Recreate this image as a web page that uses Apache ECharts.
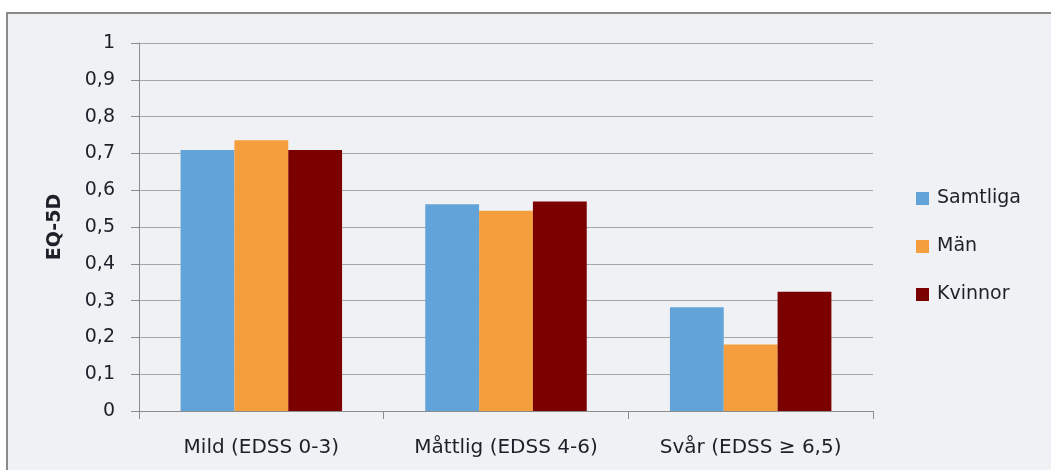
<!DOCTYPE html>
<html>
<head>
<meta charset="utf-8">
<style>
  html, body { margin: 0; padding: 0; background: #ffffff; }
  #chart { width: 1051px; height: 470px; }
</style>
<script src="https://cdn.jsdelivr.net/npm/echarts@6/dist/echarts.min.js"></script>
</head>
<body>
<div id="chart"></div>
<script>
// EQ-5D by disability level (EDSS) and sex
const categories = ['Mild (EDSS 0-3)', 'Måttlig (EDSS 4-6)', 'Svår (EDSS ≥ 6,5)'];
const seriesNames = ['Samtliga', 'Män', 'Kvinnor'];
const samtliga = [0.709, 0.562, 0.282];
const man = [0.736, 0.544, 0.181];
const kvinnor = [0.709, 0.569, 0.324];
const seriesColors = ['#62A3D9', '#F49E3D', '#7B0000'];

const FONT = '"DejaVu Sans", sans-serif';
const TEXT = '#1F1F2A';
const chart = echarts.init(document.getElementById('chart'));

function fmt(v) {
  if (v === 0 || v === 1) return String(v);
  return v.toFixed(1).replace('.', ',');
}

const values = [samtliga, man, kvinnor];

chart.setOption({
  backgroundColor: 'transparent',
  animation: false,
  graphic: [{
    type: 'rect',
    z: -10,
    shape: { x: 7, y: 13, width: 1060, height: 480 },
    style: { fill: '#F0F1F4', stroke: '#8A8A8A', lineWidth: 2 }
  }],
  grid: { left: 139, right: 178, top: 43, bottom: 59 },
  legend: {
    orient: 'vertical',
    left: 911,
    top: 184,
    icon: 'rect',
    itemWidth: 13,
    itemHeight: 13,
    itemGap: 29,
    textStyle: { fontFamily: FONT, fontSize: 19, color: TEXT, padding: [0, 0, 0, 3] },
    data: seriesNames
  },
  xAxis: {
    type: 'category',
    data: categories,
    axisLine: { show: true, lineStyle: { color: '#8C8C8C', width: 1 } },
    axisTick: { show: true, length: 8, alignWithLabel: false, lineStyle: { color: '#8C8C8C' } },
    axisLabel: { margin: 27, fontFamily: FONT, fontSize: 20, color: TEXT }
  },
  yAxis: {
    type: 'value',
    min: 0,
    max: 1,
    interval: 0.1,
    name: 'EQ-5D',
    nameLocation: 'middle',
    nameGap: 74,
    nameRotate: 90,
    nameTextStyle: { fontFamily: FONT, fontSize: 19, fontWeight: 'bold', color: TEXT },
    axisLine: { show: true, lineStyle: { color: '#8C8C8C', width: 1 } },
    axisTick: { show: true, length: 8, lineStyle: { color: '#8C8C8C' } },
    splitLine: { show: true, lineStyle: { color: '#A8A8A8', width: 1 } },
    axisLabel: { margin: 24, fontFamily: FONT, fontSize: 19, color: TEXT, formatter: fmt }
  },
  series: seriesNames.map((name, i) => ({
    name: name,
    type: 'bar',
    data: values[i],
    barGap: '0%',
    barCategoryGap: '34%',
    itemStyle: { color: seriesColors[i] }
  }))
});
</script>
</body>
</html>
